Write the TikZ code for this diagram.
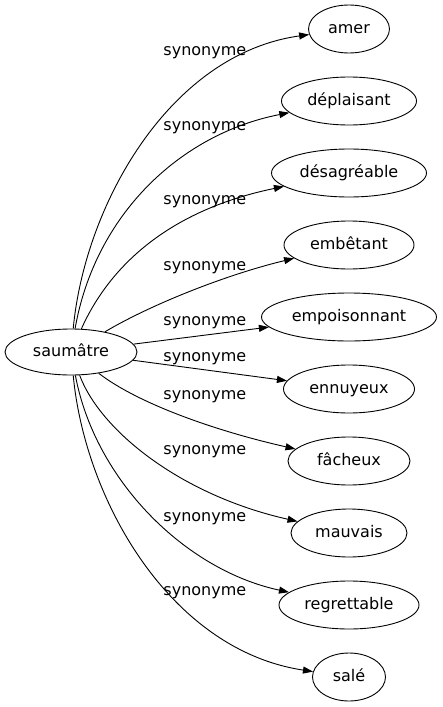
\documentclass[tikz,border=0pt]{standalone}
\usepackage{fontspec}
\setmainfont{DejaVu Sans}
\usetikzlibrary{shapes.geometric,arrows.meta}
\tikzset{
    mot/.style={draw, ellipse, inner sep=0pt, minimum height=48pt, text height=12pt, text depth=4pt},
    rel/.style={-{Triangle[length=10pt,width=7pt]}},
    syn/.style={anchor=west, inner sep=0pt, text height=9pt, text depth=4pt}
}
\begin{document}
\begin{tikzpicture}[x=1pt, y=-1pt, line width=0.9pt, font=\fontsize{16}{19}\selectfont]
        \useasboundingbox (0,0) rectangle (442,707);
        \node (saum) at (71,352)[mot, minimum width=132pt, minimum height=46pt]{saumâtre};
        \node (amer) at (349,29)[mot, minimum width=81pt]{amer};
        \node (depl) at (349,101)[mot, minimum width=135pt]{déplaisant};
        \node (desa) at (349,173)[mot, minimum width=155pt]{désagréable};
        \node (embe) at (349,245)[mot, minimum width=130pt]{embêtant};
        \node (empo) at (349,317)[mot, minimum width=175pt]{empoisonnant};
        \node (ennu) at (349,389)[mot, minimum width=131pt]{ennuyeux};
        \node (fach) at (349,461)[mot, minimum width=122pt]{fâcheux};
        \node (mauv) at (349,533)[mot, minimum width=116pt]{mauvais};
        \node (regr) at (349,605)[mot, minimum width=140pt]{regrettable};
        \node (sale) at (349,677)[mot, minimum width=73pt]{salé};
        \draw[rel](saum) .. controls (85,204) and (170,54) .. (amer);
        \draw[rel](saum) .. controls (95,215) and (180,134) .. (depl);
        \draw[rel](saum) .. controls (110,265) and (170,210) .. (desa);
        \draw[rel](saum) .. controls (150,305) and (225,275) .. (embe);
        \draw[rel](saum) -- (empo);
        \draw[rel](saum) -- (ennu);
        \draw[rel](saum) .. controls (140,405) and (220,432) .. (fach);
        \draw[rel](saum) .. controls (100,430) and (180,495) .. (mauv);
        \draw[rel](saum) .. controls (95,480) and (185,570) .. (regr);
        \draw[rel](saum) .. controls (85,500) and (170,650) .. (sale);
        \node (l1) at (163,53)[syn]{synonyme};
        \node (l2) at (163,128)[syn]{synonyme};
        \node (l3) at (163,202)[syn]{synonyme};
        \node (l4) at (163,268)[syn]{synonyme};
        \node (l5) at (163,323)[syn]{synonyme};
        \node (l6) at (163,359)[syn]{synonyme};
        \node (l7) at (163,397)[syn]{synonyme};
        \node (l8) at (163,452)[syn]{synonyme};
        \node (l9) at (163,519)[syn]{synonyme};
        \node (l10) at (163,593)[syn]{synonyme};
\end{tikzpicture}
\end{document}
